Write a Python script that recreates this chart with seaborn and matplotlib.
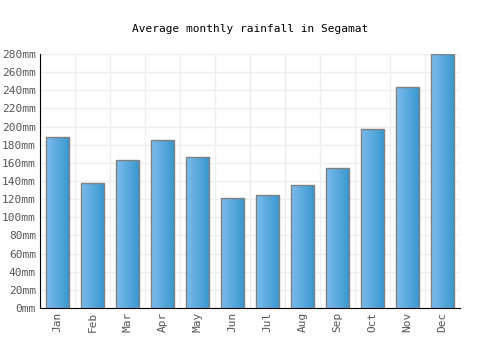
import numpy as np
import pandas as pd
import matplotlib
matplotlib.use('Agg')
import matplotlib.pyplot as plt
from matplotlib.colors import LinearSegmentedColormap
import seaborn as sns

# dados ======================================================================
meses = ['Jan', 'Feb', 'Mar', 'Apr', 'May', 'Jun', 'Jul', 'Aug', 'Sep', 'Oct', 'Nov', 'Dec']
chuva_mm = [188, 138, 163, 185, 166, 121, 125, 135, 154, 197, 243, 280]
ticks_y = list(range(0, 281, 20))

df = pd.DataFrame({'mes': meses, 'chuva': chuva_mm})

sns.set_style('white')
plt.rcParams['font.family'] = ['DejaVu Sans Mono']

fig = plt.figure(figsize=(5, 3.5), dpi=100)
ax = fig.add_axes([0.08, 0.12, 0.84, 0.726])

sns.barplot(data=df, x='mes', y='chuva', color='#4aa0dc', width=0.68,
            edgecolor='#808080', linewidth=1, ax=ax, zorder=3)

# gradiente nas barras
grad = LinearSegmentedColormap.from_list('g', ['#7bbbec', '#3896ce'])
img = np.linspace(0, 1, 64).reshape(1, -1)
for p in ax.patches:
    x0, y0 = p.get_x(), p.get_y()
    w, h = p.get_width(), p.get_height()
    im = ax.imshow(img, cmap=grad, aspect='auto', extent=[x0, x0 + w, y0, y0 + h],
                   zorder=3.5)
    im.set_clip_path(p)
    p.set_facecolor('none')
    p.set_zorder(4)

ax.set_xlim(-0.5, len(meses) - 0.5)
ax.set_ylim(0, 280)
ax.set_yticks(ticks_y)
ax.set_yticklabels([f'{t}mm' for t in ticks_y])
ax.set_xticks(np.arange(len(meses)) - 0.5, minor=True)
ax.set_xticks(np.arange(len(meses)))
ax.set_xticklabels(meses, rotation=90)
ax.grid(False)
ax.yaxis.grid(True, color='#eeeeee', linewidth=1, zorder=0)
ax.xaxis.grid(True, which='minor', color='#eeeeee', linewidth=1, zorder=0)
ax.axvline(len(meses) - 0.5, color='#eeeeee', linewidth=1, zorder=0)
ax.set_axisbelow(True)

for s in ['top', 'right']:
    ax.spines[s].set_visible(False)
ax.spines['left'].set_color('black')
ax.spines['bottom'].set_color('black')
ax.tick_params(axis='both', which='both', length=0, labelsize=8, colors='#555555', pad=3)
ax.set_xlabel('')
ax.set_ylabel('')

fig.suptitle('Average monthly rainfall in Segamat', x=0.5, y=0.93, fontsize=8, color='black')

fig.savefig('out.png', dpi=100)
